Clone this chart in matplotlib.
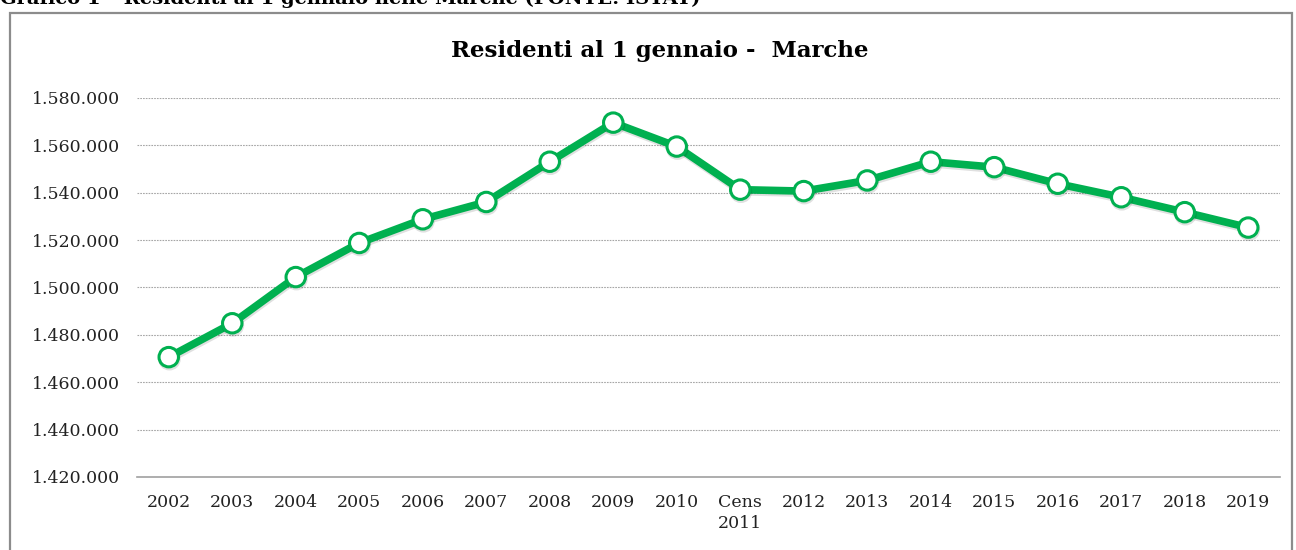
import matplotlib
matplotlib.use("Agg")
import matplotlib.pyplot as plt
import matplotlib.patheffects as pe
from matplotlib.patches import Rectangle
from matplotlib.ticker import FuncFormatter

# dati (residenti al 1 gennaio, Marche)
anni = ["2002", "2003", "2004", "2005", "2006", "2007", "2008", "2009", "2010",
        "Cens\n2011", "2012", "2013", "2014", "2015", "2016", "2017", "2018", "2019"]
residenti = [1470600, 1484900, 1504400, 1518800, 1528800, 1536100, 1553100, 1569600,
             1559500, 1541300, 1540700, 1545200, 1553100, 1550800, 1543800, 1538100,
             1531800, 1525300]
y_ticks = [1420000, 1440000, 1460000, 1480000, 1500000, 1520000, 1540000, 1560000, 1580000]

plt.rcParams['font.family'] = ['DejaVu Serif']
W, H = 1296, 550
fig = plt.figure(figsize=(W/100, H/100), dpi=100)

# cornice grigia esterna
fig.patches.append(Rectangle((10/W, -0.05), (1292-10)/W, 1.05 - 13/H,
                             transform=fig.transFigure, fill=False,
                             edgecolor="#8c8c8c", linewidth=1.6))

# didascalia tagliata in alto (come nell'originale)
fig.text(0.0, 1 - 4/H, "Grafico 1 \u2013 Residenti al 1 gennaio nelle Marche (FONTE: ISTAT)",
         fontsize=14, fontweight="bold", va="baseline", ha="left")

ax = fig.add_axes([137/W, 1 - 477/H, (1280-137)/W, (477-98)/H])
x = range(len(anni))
ax.plot(x, residenti, color="#00b050", linewidth=5.5, marker="o", markersize=14,
        markerfacecolor="white", markeredgecolor="#00b050", markeredgewidth=2.2,
        solid_capstyle="round", zorder=3,
        path_effects=[pe.SimpleLineShadow(offset=(0.5, -1.5), alpha=0.12), pe.Normal()])

ax.set_xlim(-0.5, len(anni) - 0.5)
ax.set_ylim(y_ticks[0], y_ticks[-1])
ax.set_yticks(y_ticks)
ax.yaxis.set_major_formatter(FuncFormatter(lambda v, p: f"{int(v):,}".replace(",", ".")))
ax.set_xticks(list(x))
ax.set_xticklabels(anni, linespacing=1.3)
ax.tick_params(axis="both", length=0, labelsize=12.5, colors="#222222")
ax.tick_params(axis="y", pad=12)
ax.tick_params(axis="x", pad=12)

ax.grid(axis="y", color="#a6a6a6", linestyle=(0, (1.5, 1)), linewidth=0.8)
for s in ["top", "right", "left"]:
    ax.spines[s].set_visible(False)
ax.spines["bottom"].set_color("#a0a0a0")
ax.spines["bottom"].set_linewidth(1.2)

fig.text(660/W, 1 - 51/H, "Residenti al 1 gennaio -  Marche", fontsize=16.5,
         fontweight="bold", ha="center", va="center")

fig.savefig("out.png", dpi=100)
